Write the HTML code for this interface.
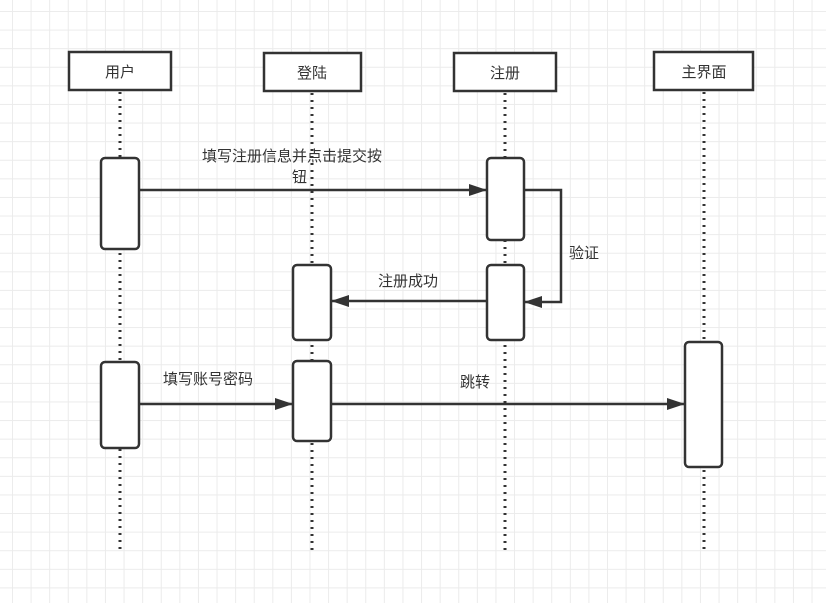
<!DOCTYPE html>
<html><head><meta charset="utf-8"><style>
body{margin:0;width:826px;height:598px;overflow:hidden;background:#fff;
background-image:linear-gradient(#ebebeb 1px,transparent 1px),linear-gradient(90deg,#ebebeb 1px,transparent 1px);
background-size:18.6px 18.6px;background-position:12px 11px;}
text{font-family:"Liberation Sans","Noto Sans CJK SC",sans-serif;font-size:15px;fill:#333}
</style></head><body>
<svg width="826" height="598" xmlns="http://www.w3.org/2000/svg">
<defs>
<marker id="b" viewBox="0 0 18 12" markerWidth="18" markerHeight="12" refX="17" refY="6" orient="auto" markerUnits="userSpaceOnUse"><path d="M0,0 L18,6 L0,12 Z" fill="#333"/></marker></defs>
<g stroke="#333" stroke-width="3" stroke-dasharray="2,5" fill="none">
<line x1="120" y1="92" x2="120" y2="550"/><line x1="312" y1="93" x2="312" y2="550"/>
<line x1="505" y1="93" x2="505" y2="550"/><line x1="704" y1="92" x2="704" y2="552"/>
</g>
<g stroke="#333" stroke-width="2.5" fill="#fff">
<rect x="69" y="52" width="102" height="38"/><rect x="264" y="53" width="97" height="38"/>
<rect x="454" y="53" width="102" height="38"/><rect x="654" y="52" width="99" height="38"/>
<rect x="101" y="158" width="38" height="91" rx="4"/><rect x="101" y="362" width="38" height="86" rx="4"/>
<rect x="487" y="158" width="37" height="82" rx="4"/><rect x="487" y="265" width="37" height="75" rx="4"/>
<rect x="293" y="265" width="38" height="75" rx="4"/><rect x="293" y="361" width="38" height="80" rx="4"/>
<rect x="685" y="342" width="37" height="125" rx="4"/>
</g>
<g stroke="#333" stroke-width="2.5" fill="none">
<line x1="139" y1="190" x2="486" y2="190" marker-end="url(#b)"/>
<polyline points="524,190 561,190 561,302 525,302" marker-end="url(#b)"/>
<line x1="487" y1="301" x2="332" y2="301" marker-end="url(#b)"/>
<line x1="139" y1="404" x2="292" y2="404" marker-end="url(#b)"/>
<line x1="331" y1="404" x2="684" y2="404" marker-end="url(#b)"/>
</g>
<text x="120" y="77" text-anchor="middle">用户</text>
<text x="312" y="78" text-anchor="middle">登陆</text>
<text x="505" y="78" text-anchor="middle">注册</text>
<text x="704" y="77" text-anchor="middle">主界面</text>
<text x="202" y="161">填写注册信息并点击提交按</text>
<text x="292" y="182">钮</text>
<text x="569" y="258">验证</text>
<text x="378" y="286">注册成功</text>
<text x="163" y="384">填写账号密码</text>
<text x="460" y="387">跳转</text>
</svg>
</body></html>
